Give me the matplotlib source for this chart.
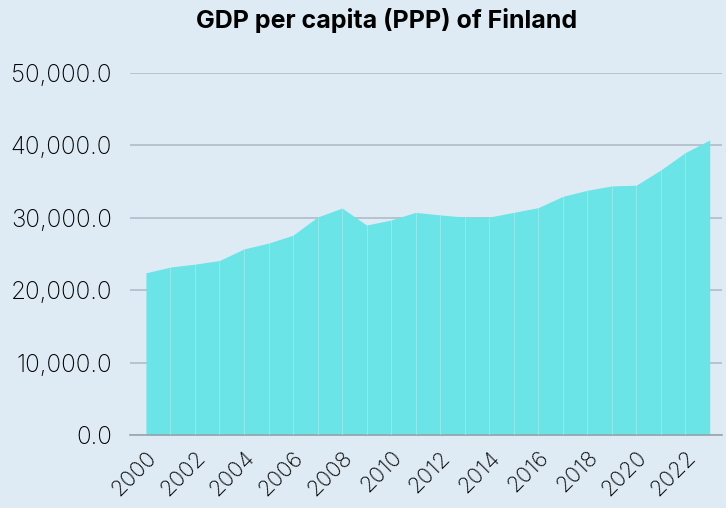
import matplotlib
matplotlib.use('Agg')
import matplotlib.pyplot as plt
from matplotlib.ticker import FuncFormatter

years = list(range(2000, 2024))
gdp = [22400, 23200, 23600, 24100, 25700, 26500, 27600, 30100, 31350, 29000,
       29700, 30750, 30400, 30100, 30100, 30750, 31400, 32950, 33800, 34400,
       34500, 36600, 39000, 40750]
tick_years = list(range(2000, 2023, 2))

bg = '#deebf4'
fill = '#6ae4e6'

plt.rcParams['font.family'] = ['Inter', 'DejaVu Sans']

fig = plt.figure(figsize=(7.26, 5.08), dpi=100, facecolor=bg)
ax = fig.add_axes([130 / 726, 73 / 508, (722 - 130) / 726, (435 - 73) / 508], facecolor=bg)

ax.fill_between(years, gdp, 0, color=fill, linewidth=0, zorder=2)
# thin light lines at each year inside the area
ax.vlines(years[1:-1], 0, gdp[1:-1], color='white', alpha=0.25, linewidth=0.8, zorder=3)

ax.set_xlim(1999.35, 2023.5)
ax.set_ylim(0, 50000)
ax.set_yticks(range(0, 50001, 10000))
ax.yaxis.set_major_formatter(FuncFormatter(lambda v, p: f'{v:,.1f}'))
ax.set_xticks(tick_years)
ax.set_xticklabels([str(y) for y in tick_years], rotation=45, ha='right',
                   rotation_mode='anchor')

ax.grid(axis='y', color='#b0bcc8', linewidth=1.2, zorder=1)
for s in ['top', 'right', 'left']:
    ax.spines[s].set_visible(False)
ax.spines['bottom'].set_color('#9aa3ab')
ax.spines['bottom'].set_linewidth(1.2)
ax.tick_params(axis='both', length=0, colors='#000000')
ax.tick_params(axis='y', pad=13, labelsize=17.5)
ax.tick_params(axis='x', pad=9, labelsize=16)
for lbl in ax.get_xticklabels() + ax.get_yticklabels():
    lbl.set_fontweight('light')

fig.suptitle('GDP per capita (PPP) of Finland', fontsize=18, fontweight='bold',
             y=0.985, x=0.532)

fig.savefig('out.png', dpi=100, facecolor=bg)
